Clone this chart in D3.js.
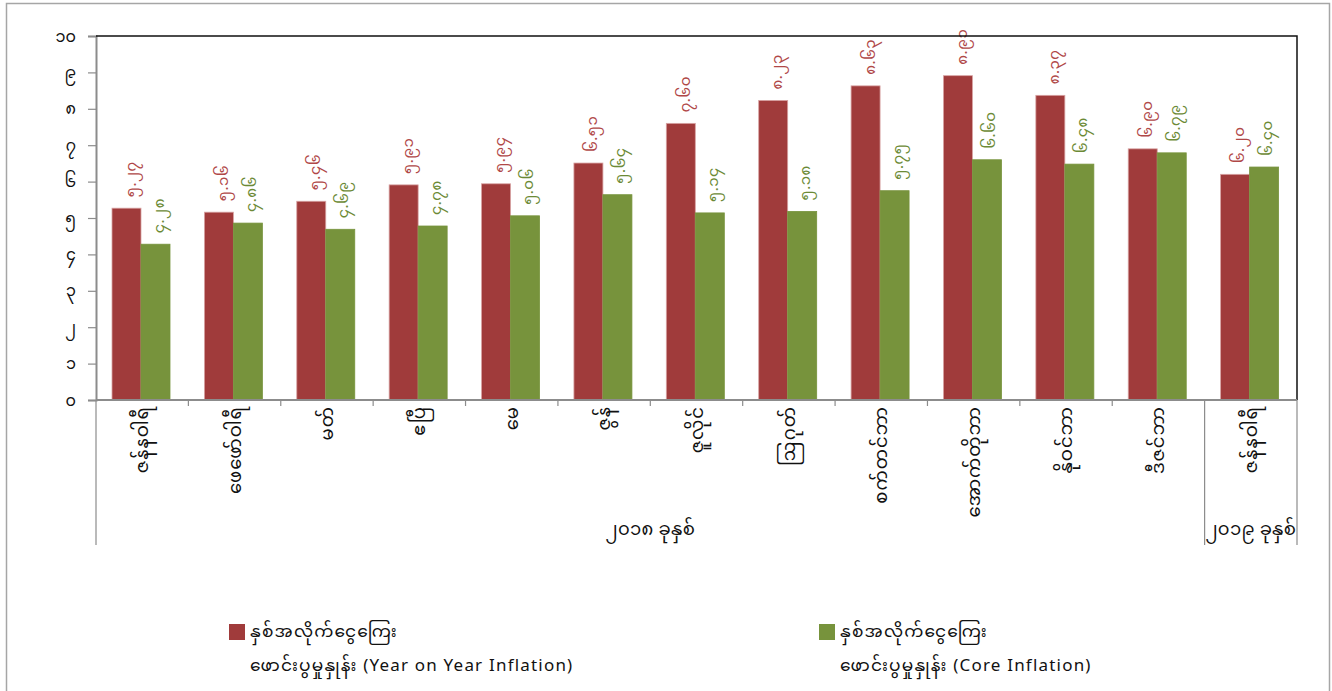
<!DOCTYPE html>
<html>
<head>
<meta charset="utf-8">
<script src="https://cdn.jsdelivr.net/npm/d3@7"></script>
<style>
  html, body { margin: 0; padding: 0; background: #fff; }
  svg { display: block; }
  text { font-family: "Noto Sans Myanmar", "Padauk", "Myanmar Text", "Noto Sans", "DejaVu Sans", sans-serif; }
</style>
</head>
<body>
<svg id="chart" width="1332" height="691"></svg>
<script>
// ---- data ----
const categories = ["ဇန်နဝါရီ", "ဖေဖော်ဝါရီ", "မတ်", "ဧပြီ", "မေ", "ဇွန်", "ဇူလိုင်", "ဩဂုတ်", "စက်တင်ဘာ", "အောက်တိုဘာ", "နိုဝင်ဘာ", "ဒီဇင်ဘာ", "ဇန်နဝါရီ"];
const yearGroups = ["၂၀၁၈ ခုနှစ်", "၂၀၁၉ ခုနှစ်"];
const yearGroupSizes = [12, 1];
const yoyInflation = [5.27, 5.16, 5.46, 5.91, 5.94, 6.51, 7.60, 8.23, 8.63, 8.91, 8.37, 6.90, 6.20];
const coreInflation = [4.28, 4.86, 4.69, 4.78, 5.06, 5.64, 5.14, 5.18, 5.75, 6.60, 6.48, 6.79, 6.40];
const yTicks = [0, 1, 2, 3, 4, 5, 6, 7, 8, 9, 10];
const seriesNames = [
  ["နှစ်အလိုက်ငွေကြေး", "ဖောင်းပွမှုနှုန်း  (Year on Year Inflation)"],
  ["နှစ်အလိုက်ငွေကြေး", "ဖောင်းပွမှုနှုန်း (Core Inflation)"]
];

const mmDigits = "၀၁၂၃၄၅၆၇၈၉";
const toMM = s => String(s).replace(/[0-9]/g, d => mmDigits[+d]);

const svg = d3.select("#chart");

// outer frame
svg.append("path").attr("d", "M6.5,691 V3.5 H1329.5 V691")
  .attr("fill", "none").attr("stroke", "#a6a6a6").attr("stroke-width", 1.5);

const L = 96, R = 1297, T = 36, B = 400;

const x0 = d3.scaleBand().domain(d3.range(categories.length)).range([L, R]).padding(0);
const x1 = d3.scaleBand().domain(["yoy", "core"]).range([16, 74]).padding(0);
const y = d3.scaleLinear().domain([0, 10]).range([B, T]);

const series = [
  { key: "yoy", values: yoyInflation, color: "#A03B3B", labelColor: "#B04848", edge: "#D8A3A3", dx: 9 },
  { key: "core", values: coreInflation, color: "#77933C", labelColor: "#6C8A36", edge: "#77933C", dx: 8 }
];

// bars
series.forEach(s => {
  svg.append("g").selectAll("rect").data(s.values).join("rect")
    .attr("x", (d, i) => x0(i) + x1(s.key))
    .attr("y", d => y(d))
    .attr("width", x1.bandwidth())
    .attr("height", d => B - y(d))
    .attr("fill", s.color)
    .attr("stroke", s.edge)
    .attr("stroke-width", 0.8);
});

// data labels (rotated)
series.forEach(s => {
  svg.append("g").selectAll("text").data(s.values).join("text")
    .attr("transform", (d, i) => {
      const cx = x0(i) + x1(s.key) + x1.bandwidth() / 2 + s.dx;
      return `translate(${cx},${y(d) - 11}) rotate(-90)`;
    })
    .attr("text-anchor", "start")
    .attr("font-size", 15)
    .attr("letter-spacing", 0.5)
    .attr("fill", s.labelColor)
    .text(d => toMM(d.toFixed(2)));
});

// y axis
const yAxis = d3.axisLeft(y).tickValues(yTicks).tickSize(8).tickFormat(d => toMM(d));
const gy = svg.append("g").attr("transform", `translate(${L},0)`).call(yAxis);
gy.select(".domain").attr("stroke", "#8c8c8c").attr("stroke-width", 2);
gy.selectAll(".tick line").attr("stroke", "#8c8c8c").attr("stroke-width", 1.2);
gy.selectAll(".tick text").attr("font-size", 16).attr("fill", "#111").attr("x", -20);

// plot top & right border
svg.append("path").attr("d", `M${L},${T} H${R} V${B}`)
  .attr("fill", "none").attr("stroke", "#111").attr("stroke-width", 1.5);

// x axis line + ticks
svg.append("line").attr("x1", L).attr("x2", R).attr("y1", B).attr("y2", B)
  .attr("stroke", "#8c8c8c").attr("stroke-width", 2);
const boundaries = d3.range(categories.length + 1);
let cum = 0;
const groupEdges = [0];
yearGroupSizes.forEach(n => { cum += n; groupEdges.push(cum); });
svg.append("g").selectAll("line").data(boundaries).join("line")
  .attr("x1", i => i === categories.length ? R : x0(i))
  .attr("x2", i => i === categories.length ? R : x0(i))
  .attr("y1", B)
  .attr("y2", i => groupEdges.includes(i) ? 545 : 406)
  .attr("stroke", "#8c8c8c").attr("stroke-width", 1.2);

// category labels (rotated)
svg.append("g").selectAll("text").data(categories).join("text")
  .attr("transform", (d, i) => `translate(${x0(i) + x0.bandwidth() / 2 + 6},${B + 6}) rotate(-90)`)
  .attr("text-anchor", "end")
  .attr("font-size", 18)
  .attr("letter-spacing", 1)
  .attr("fill", "#111")
  .text(d => d);

// year group labels
svg.append("g").selectAll("text").data(yearGroups).join("text")
  .attr("x", (d, i) => {
    const a = groupEdges[i], b = groupEdges[i + 1];
    const xa = x0(a), xb = b === categories.length ? R : x0(b);
    return (xa + xb) / 2;
  })
  .attr("y", 535)
  .attr("text-anchor", "middle")
  .attr("font-size", 18)
  .attr("letter-spacing", 0.3)
  .attr("fill", "#111")
  .text(d => d);

// legend (two-line label as one text element)
const legendX = [229, 819];
series.forEach((s, i) => {
  const g = svg.append("g").attr("transform", `translate(${legendX[i]},624)`);
  g.append("rect").attr("width", 16).attr("height", 16).attr("fill", s.color);
  const t = g.append("text").attr("x", 21).attr("y", 13).attr("font-size", 17)
    .attr("letter-spacing", 1.2).attr("fill", "#111");
  t.append("tspan").attr("x", 21).attr("y", 13).text(seriesNames[i][0]);
  t.append("tspan").attr("x", 21).attr("y", 47).text(seriesNames[i][1]);
});
</script>
</body>
</html>
